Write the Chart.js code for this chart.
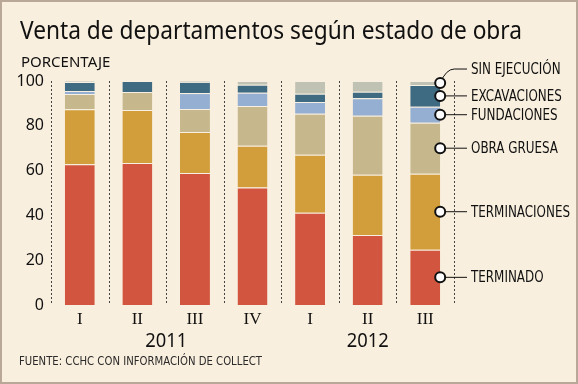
<!DOCTYPE html>
<html>
<head>
<meta charset="utf-8">
<script src="https://cdn.jsdelivr.net/npm/chart.js@4.4.1/dist/chart.umd.min.js"></script>
<style>
  html, body { margin: 0; padding: 0; background: #f9efde; }
  #wrap { width: 578px; height: 384px; }
</style>
</head>
<body>
<div id="wrap"><canvas id="obra-chart" width="578" height="384"></canvas></div>
<script>
// datos (porcentaje de ventas)
let trimestres = ['I', 'II', 'III', 'IV', 'I', 'II', 'III'];
let anios = ['2011', '2011', '2011', '2011', '2012', '2012', '2012'];
let yTicks = [0, 20, 40, 60, 80, 100];

let terminado     = [62.8, 63.4, 58.9, 52.5, 41.2, 31.3, 24.7];
let terminaciones = [24.6, 23.7, 18.3, 18.6, 25.9, 26.9, 33.9];
let obraGruesa    = [6.8, 8.0, 10.3, 17.7, 18.3, 26.3, 22.8];
let fundaciones   = [1.3, 0.0, 7.1, 6.0, 5.2, 7.8, 7.1];
let excavaciones  = [4.1, 4.9, 5.0, 3.5, 3.7, 2.9, 9.7];
let sinEjecucion  = [0.4, 0.0, 0.4, 1.7, 5.7, 4.8, 1.8];

let estados = ['TERMINADO', 'TERMINACIONES', 'OBRA GRUESA', 'FUNDACIONES', 'EXCAVACIONES', 'SIN EJECUCIÓN'];
let series = [terminado, terminaciones, obraGruesa, fundaciones, excavaciones, sinEjecucion];
let colores = ['#d2563f', '#d29d3b', '#c7b78c', '#95afd2', '#3e6a82', '#c0c2b3'];

const FONDO = '#f9efde';
const SANS = "'Noto Sans', 'DejaVu Sans', sans-serif";
const COND = "'DejaVu Sans Condensed', 'DejaVu Sans', sans-serif";

Chart.defaults.font.family = COND;
Chart.defaults.color = '#1b1b1b';

var datasets = [];
for (let i = 0; i < series.length; i++) {
    datasets.push({
        label: estados[i],
        data: series[i],
        backgroundColor: colores[i],
        borderColor: '#f6efe2',
        borderWidth: {top: 1, left: 0, right: 0, bottom: 0},
        borderSkipped: 'bottom',
        categoryPercentage: 1,
        barPercentage: 0.52
    });
}

// texto comprimido horizontalmente para imitar la fuente angosta
function textoAngosto(ctx, texto, x, y, escala) {
    let w = ctx.measureText(texto).width;
    ctx.fillText(texto, x, y, w * escala);
}

// fondo, marco y lineas punteadas
const fondoPlugin = {
    id: 'fondo',
    beforeDraw(chart) {
        const ctx = chart.ctx;
        ctx.save();
        ctx.fillStyle = FONDO;
        ctx.fillRect(0, 0, chart.width, chart.height);
        ctx.strokeStyle = '#b9a898';
        ctx.lineWidth = 2;
        ctx.strokeRect(1, 1, chart.width - 2, chart.height - 2);

        const area = chart.chartArea;
        const paso = (area.right - area.left) / trimestres.length;
        ctx.strokeStyle = '#444';
        ctx.lineWidth = 1;
        ctx.setLineDash([2, 2]);
        for (let i = 0; i <= trimestres.length; i++) {
            let x = Math.round(area.left + i * paso) + 0.5;
            ctx.beginPath();
            ctx.moveTo(x, area.top);
            ctx.lineTo(x, area.bottom);
            ctx.stroke();
        }
        ctx.restore();
    }
};

// titulos, años y etiquetas de la derecha
const textosPlugin = {
    id: 'textos',
    afterDatasetsDraw(chart) {
        const ctx = chart.ctx;
        const xs = chart.scales.x;
        ctx.save();
        ctx.fillStyle = '#111';
        ctx.textBaseline = 'alphabetic';
        ctx.textAlign = 'left';
        ctx.font = '25px ' + SANS;
        ctx.fillText('Venta de departamentos según estado de obra', 20, 39, 502);
        ctx.font = '15px ' + SANS;
        ctx.fillText('PORCENTAJE', 21, 67, 91);
        ctx.font = '12px ' + COND;
        ctx.fillStyle = '#2a2a2a';
        ctx.fillText('FUENTE: CCHC CON INFORMACIÓN DE COLLECT', 19, 365, 243);

        // años centrados bajo sus trimestres
        ctx.fillStyle = '#111';
        ctx.font = '20px ' + SANS;
        ctx.textAlign = 'center';
        let inicio = 0;
        for (let i = 1; i <= anios.length; i++) {
            if (i == anios.length || anios[i] != anios[inicio]) {
                let x = (xs.getPixelForValue(inicio) + xs.getPixelForValue(i - 1)) / 2;
                ctx.fillText(anios[inicio], x, 347, 42);
                inicio = i;
            }
        }

        // etiquetas con circulos sobre la ultima barra
        const ultimo = trimestres.length - 1;
        const textoX = 471;
        ctx.textAlign = 'left';
        ctx.textBaseline = 'middle';
        ctx.font = '15px ' + COND;
        let escala = 99 / ctx.measureText('TERMINACIONES').width;
        for (let d = 0; d < series.length; d++) {
            let el = chart.getDatasetMeta(d).data[ultimo];
            let cx = el.x + el.width / 2;
            let cy = (el.y + el.base) / 2;
            let ly = cy;
            ctx.strokeStyle = '#111';
            ctx.lineWidth = 1;
            ctx.beginPath();
            if (d == series.length - 1) {
                ly = cy - 14;
                ctx.moveTo(cx, cy);
                ctx.quadraticCurveTo(cx + 6, ly, cx + 14, ly);
                ctx.lineTo(textoX - 4, ly);
            } else {
                ctx.moveTo(cx, cy);
                ctx.lineTo(textoX - 4, ly);
            }
            ctx.stroke();

            ctx.beginPath();
            ctx.arc(cx, cy, 5, 0, Math.PI * 2);
            ctx.fillStyle = '#fff';
            ctx.fill();
            ctx.lineWidth = 2;
            ctx.stroke();

            ctx.fillStyle = '#111';
            textoAngosto(ctx, estados[d], textoX, ly + 1, escala);
        }
        ctx.restore();
    }
};

var ctx = document.getElementById('obra-chart').getContext('2d');
var obraChart = new Chart(ctx, {
    type: 'bar',
    data: {
        labels: trimestres,
        datasets: datasets
    },
    options: {
        responsive: false,
        animation: false,
        layout: {
            padding: {left: 0, top: 81, right: 124, bottom: 39}
        },
        plugins: {
            legend: {display: false},
            title: {display: false},
            tooltip: {enabled: false}
        },
        scales: {
            x: {
                stacked: true,
                grid: {display: false, drawTicks: false},
                border: {display: false},
                ticks: {
                    padding: 4,
                    color: '#111',
                    font: {family: "'Liberation Serif', serif", size: 17}
                },
                afterFit: function (scale) { scale.height = 40; }
            },
            y: {
                stacked: true,
                min: 0,
                max: 100,
                grid: {display: false, drawTicks: false},
                border: {display: false},
                afterBuildTicks: function (axis) {
                    axis.ticks = yTicks.map(v => ({value: v}));
                },
                ticks: {
                    padding: 7,
                    color: '#111',
                    font: {family: SANS, size: 16}
                },
                afterFit: function (scale) { scale.width = 51; }
            }
        }
    },
    plugins: [fondoPlugin, textosPlugin]
});
</script>
</body>
</html>
